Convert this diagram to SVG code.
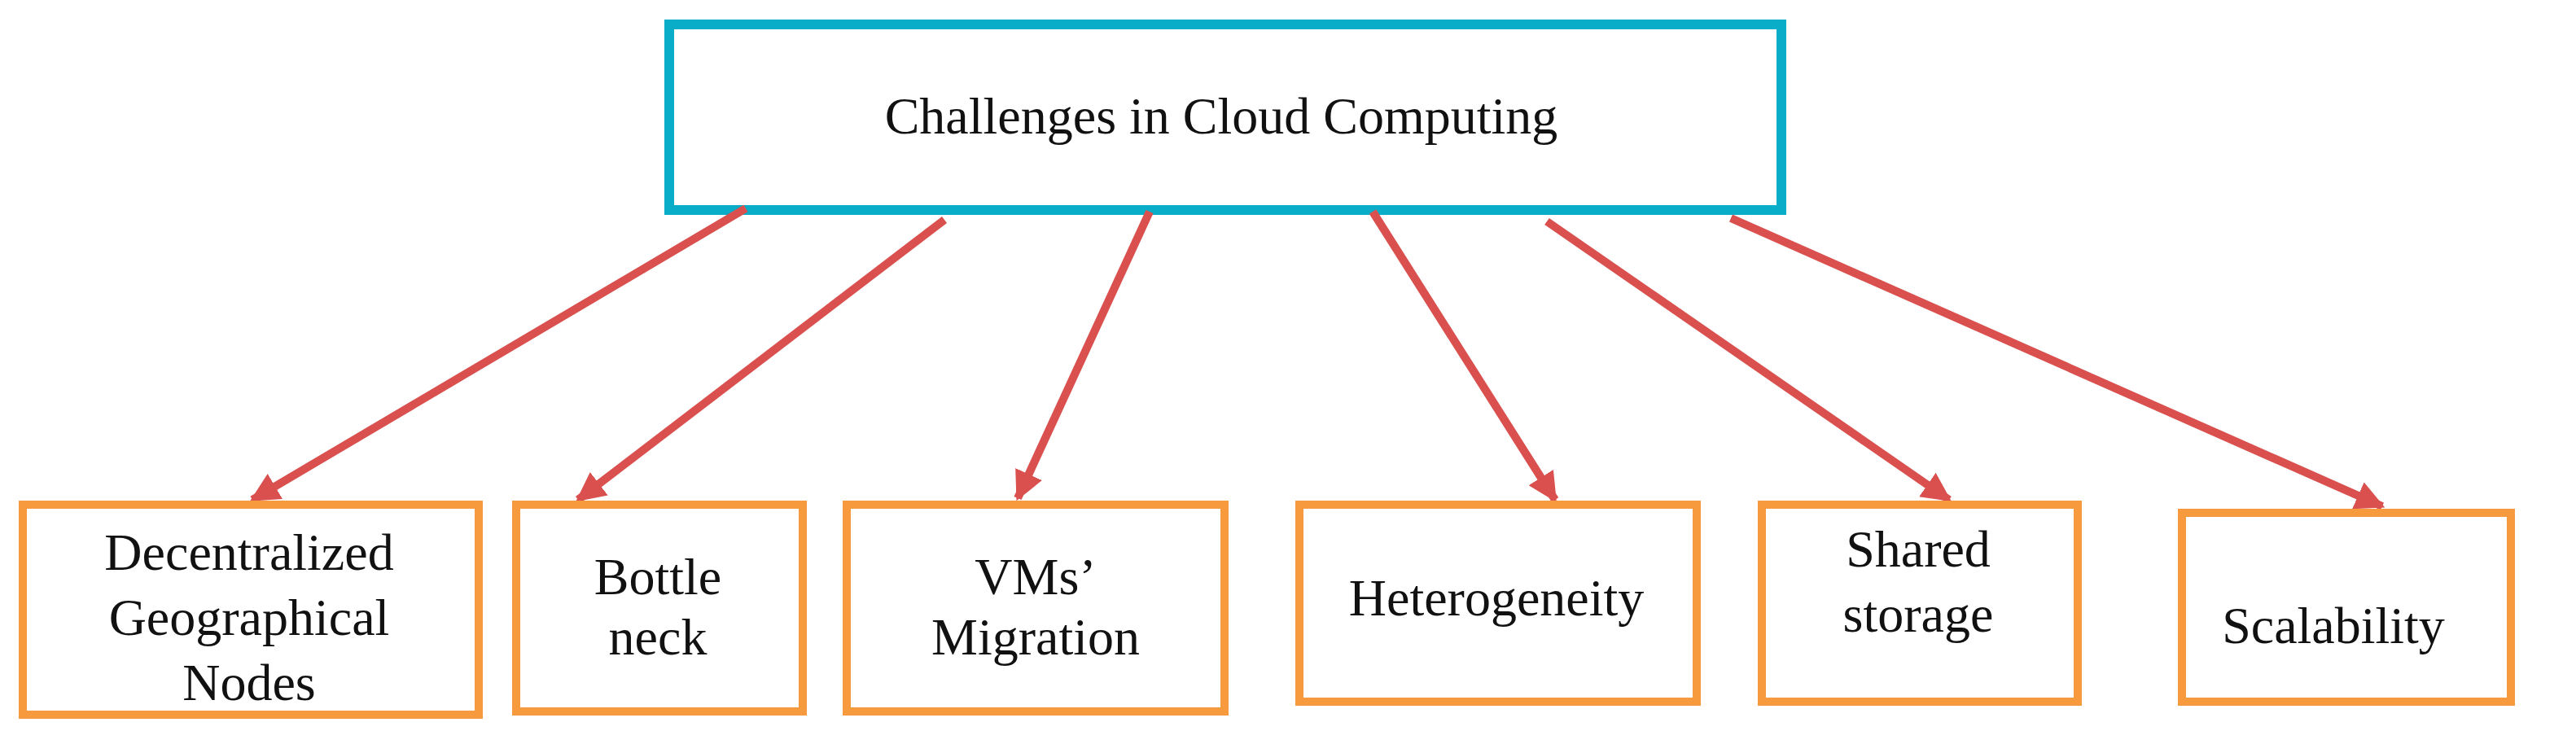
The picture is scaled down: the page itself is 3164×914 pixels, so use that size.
<svg xmlns="http://www.w3.org/2000/svg" width="3164" height="914" viewBox="0 0 3164 914">
<defs>
<style>
.t{font-family:"Liberation Serif","Times New Roman",serif;font-size:64px;fill:#111;text-anchor:middle}
.b{fill:#fff;stroke:#F79A3E;stroke-width:10}
.c{stroke:#D9504E;stroke-width:10;fill:none;marker-end:url(#a)}
</style>
<marker id="a" viewBox="0 0 10 10" refX="9" refY="5" markerWidth="3.6" markerHeight="3.6" orient="auto" markerUnits="strokeWidth"><path d="M0,0 L10,5 L0,10 z" fill="#D9504E"/></marker>
</defs>
<rect width="3164" height="914" fill="#fff"/>
<g id="top"><rect x="822" y="30" width="1366" height="228" fill="#fff" stroke="#0AADC8" stroke-width="12"/><text class="t" x="1500" y="164">Challenges in Cloud Computing</text></g>
<g id="connectors">
<line class="c" x1="916" y1="256" x2="310" y2="614"/>
<line class="c" x1="1160" y1="270" x2="710" y2="614"/>
<line class="c" x1="1412" y1="260" x2="1250" y2="612"/>
<line class="c" x1="1686" y1="260" x2="1910" y2="614"/>
<line class="c" x1="1900" y1="272" x2="2394" y2="614"/>
<line class="c" x1="2126" y1="268" x2="2926" y2="622"/>
</g>
<g id="n1"><rect class="b" x="28" y="620" width="560" height="258"/><text class="t" x="306" y="700">Decentralized</text><text class="t" x="306" y="780">Geographical</text><text class="t" x="306" y="860">Nodes</text></g>
<g id="n2"><rect class="b" x="634" y="620" width="352" height="254"/><text class="t" x="808" y="730">Bottle</text><text class="t" x="808" y="804">neck</text></g>
<g id="n3"><rect class="b" x="1040" y="620" width="464" height="254"/><text class="t" x="1272" y="730">VMs’</text><text class="t" x="1272" y="804">Migration</text></g>
<g id="n4"><rect class="b" x="1596" y="620" width="488" height="242"/><text class="t" x="1838" y="756">Heterogeneity</text></g>
<g id="n5"><rect class="b" x="2164" y="620" width="388" height="242"/><text class="t" x="2356" y="696">Shared</text><text class="t" x="2356" y="776">storage</text></g>
<g id="n6"><rect class="b" x="2680" y="630" width="404" height="232"/><text class="t" x="2866" y="790">Scalability</text></g>
</svg>
